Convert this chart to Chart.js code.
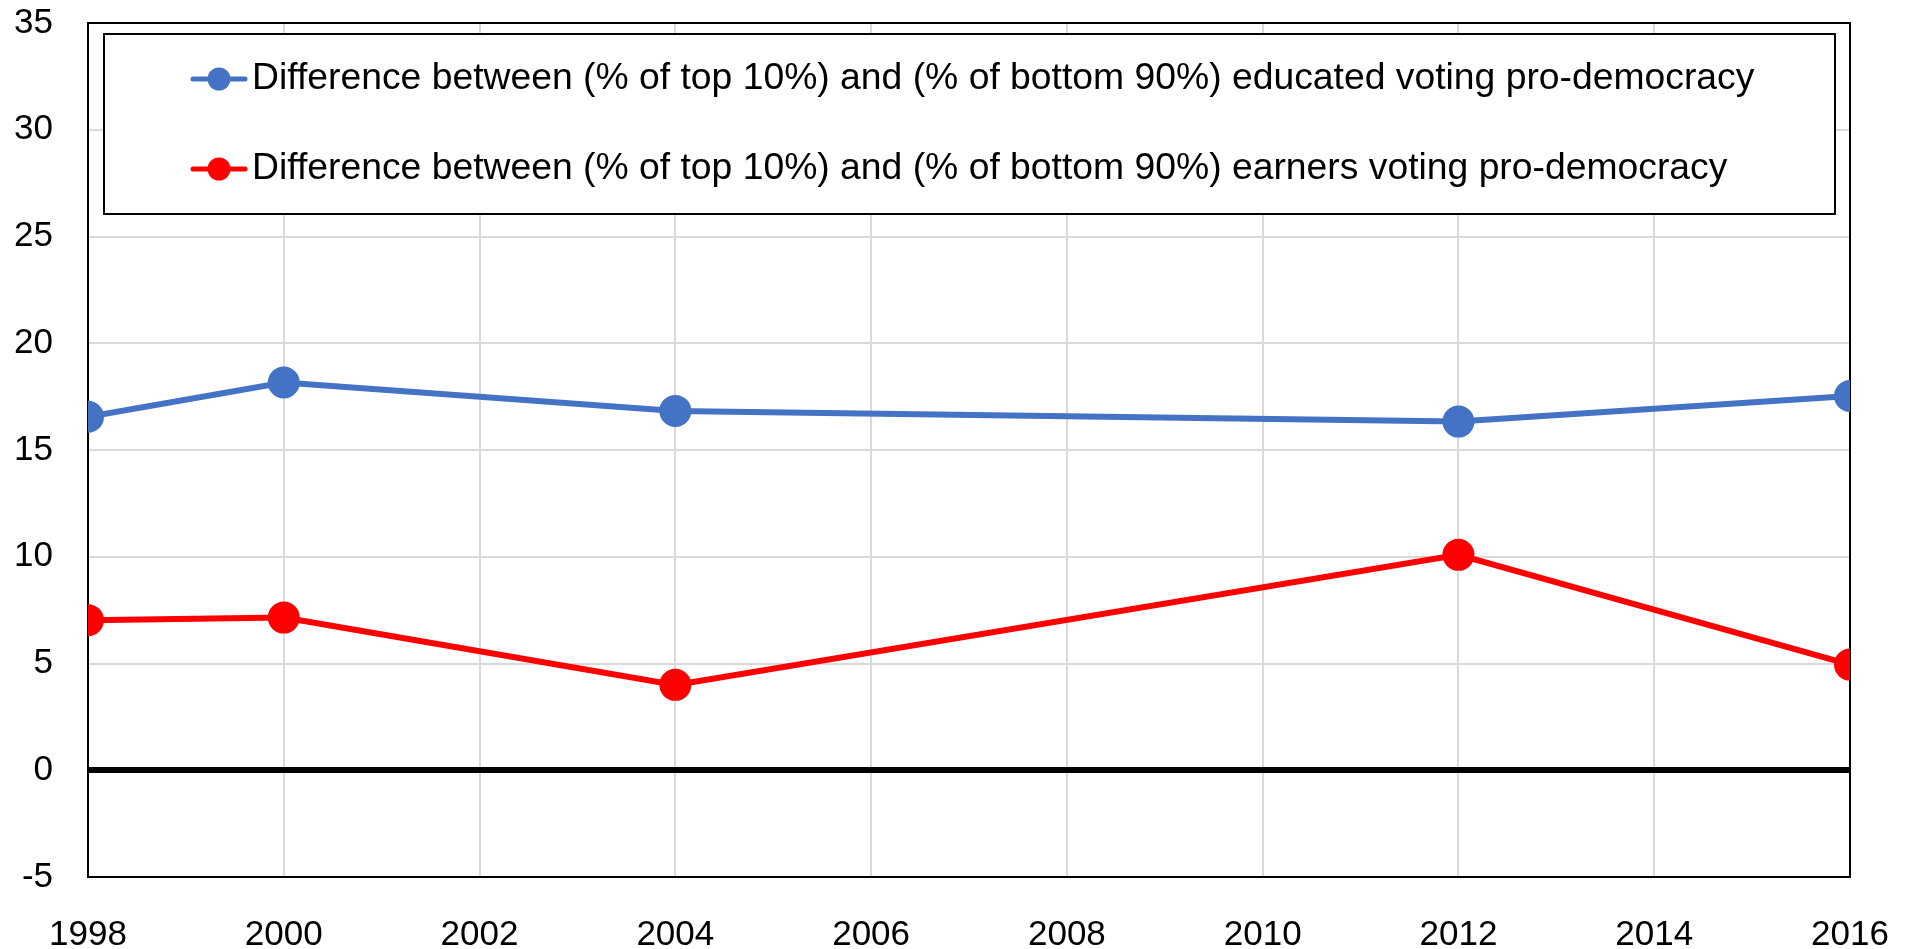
<!DOCTYPE html>
<html>
<head>
<meta charset="utf-8">
<script src="https://cdn.jsdelivr.net/npm/chart.js@4.4.1/dist/chart.umd.min.js"></script>
<style>
    body { margin: 0; background: #fff; }
    #wrap { width: 1910px; height: 949px; position: relative; }
</style>
</head>
<body>
<div id="wrap"><canvas id="grafico"></canvas></div>
<script>
// Datos
const anios = [1998, 2000, 2004, 2012, 2016];
const educados = [16.56, 18.16, 16.83, 16.33, 17.53];
const ingresos = [7.03, 7.15, 4.00, 10.09, 4.95];
const etiquetas = [
    'Difference between (% of top 10%) and (% of bottom 90%) educated voting pro-democracy',
    'Difference between (% of top 10%) and (% of bottom 90%) earners voting pro-democracy'
];
const colores = ['#4472C4', '#FF0000'];

const FUENTE = '"Liberation Sans", Arial, sans-serif';

document.addEventListener('DOMContentLoaded', () => {
    // Marco del area y leyenda dentro del grafico
    const marcoPlugin = {
        id: 'marco',
        beforeDatasetsDraw(chart) {
            const { ctx, chartArea: a } = chart;
            ctx.save();
            ctx.strokeStyle = '#000';
            ctx.lineWidth = 2;
            ctx.strokeRect(a.left, a.top, a.right - a.left, a.bottom - a.top);
            ctx.restore();
        },
        afterDraw(chart) {
            const ctx = chart.ctx;
            ctx.save();
            ctx.fillStyle = '#fff';
            ctx.fillRect(104, 34, 1731, 180);
            ctx.strokeStyle = '#000';
            ctx.lineWidth = 2;
            ctx.strokeRect(104, 34, 1731, 180);

            const filas = [79, 169];
            chart.data.datasets.forEach((ds, i) => {
                const y = filas[i];
                ctx.strokeStyle = ds.borderColor;
                ctx.lineWidth = 5;
                ctx.lineCap = 'round';
                ctx.beginPath();
                ctx.moveTo(193, y);
                ctx.lineTo(245, y);
                ctx.stroke();
                ctx.fillStyle = ds.borderColor;
                ctx.beginPath();
                ctx.arc(219, y, 11.5, 0, Math.PI * 2);
                ctx.fill();
                ctx.fillStyle = '#000';
                ctx.font = '37.3px ' + FUENTE;
                ctx.textBaseline = 'middle';
                ctx.textAlign = 'left';
                ctx.fillText(ds.label, 252, y);
            });
            ctx.restore();
        }
    };

    const ctx = document.getElementById('grafico').getContext('2d');
    new Chart(ctx, {
        type: 'line',
        data: {
            datasets: [
                {
                    label: etiquetas[0],
                    data: anios.map((a, i) => ({ x: a, y: educados[i] })),
                    borderColor: colores[0],
                    backgroundColor: colores[0],
                    borderWidth: 6,
                    pointRadius: 13,
                    pointHoverRadius: 13,
                    tension: 0
                },
                {
                    label: etiquetas[1],
                    data: anios.map((a, i) => ({ x: a, y: ingresos[i] })),
                    borderColor: colores[1],
                    backgroundColor: colores[1],
                    borderWidth: 6,
                    pointRadius: 13,
                    pointHoverRadius: 13,
                    tension: 0
                }
            ]
        },
        options: {
            responsive: true,
            maintainAspectRatio: false,
            animation: false,
            layout: {
                padding: { top: 23, right: 60, left: 0, bottom: 0 }
            },
            plugins: {
                legend: { display: false },
                tooltip: { enabled: false }
            },
            scales: {
                x: {
                    type: 'linear',
                    min: 1998,
                    max: 2016,
                    afterFit: (scale) => { scale.height = 72; },
                    grid: {
                        color: '#d9d9d9',
                        lineWidth: 2,
                        drawTicks: true,
                        tickLength: 37,
                        tickColor: 'rgba(0,0,0,0)'
                    },
                    border: { color: '#000', width: 2 },
                    ticks: {
                        stepSize: 2,
                        padding: 0,
                        color: '#000',
                        font: { size: 35, family: FUENTE },
                        maxRotation: 0,
                        callback: (v) => String(v)
                    }
                },
                y: {
                    min: -5,
                    max: 35,
                    afterFit: (scale) => { scale.width = 88; },
                    grid: {
                        color: (c) => c.tick && c.tick.value === 0 ? '#000' : '#d9d9d9',
                        lineWidth: (c) => c.tick && c.tick.value === 0 ? 6 : 2,
                        drawTicks: true,
                        tickLength: 35,
                        tickColor: 'rgba(0,0,0,0)'
                    },
                    border: { color: '#000', width: 2 },
                    ticks: {
                        stepSize: 5,
                        padding: 0,
                        color: '#000',
                        font: { size: 35, family: FUENTE }
                    }
                }
            }
        },
        plugins: [marcoPlugin]
    });
});
</script>
</body>
</html>
